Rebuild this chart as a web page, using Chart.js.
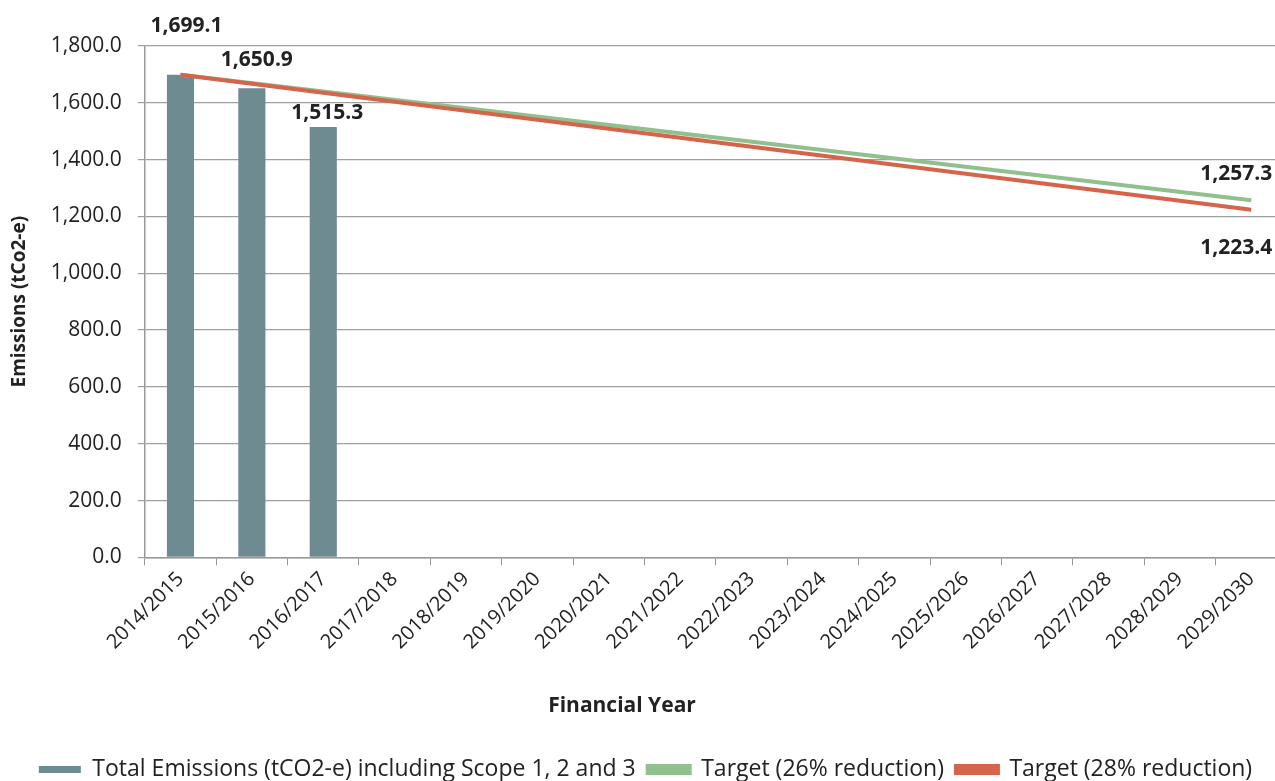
<!DOCTYPE html>
<html>
<head>
<meta charset="utf-8">
<script src="https://cdn.jsdelivr.net/npm/chart.js@4.4.1/dist/chart.umd.min.js"></script>
<style>
  html, body { margin: 0; padding: 0; background: #fff; overflow: hidden; }
  #wrap { position: absolute; left: 0; top: 0; width: 1290px; height: 781px; }
</style>
</head>
<body>
<div id="wrap"><canvas id="emChart"></canvas></div>
<script>
const years = [
  "2014/2015", "2015/2016", "2016/2017", "2017/2018", "2018/2019", "2019/2020",
  "2020/2021", "2021/2022", "2022/2023", "2023/2024", "2024/2025", "2025/2026",
  "2026/2027", "2027/2028", "2028/2029", "2029/2030"
];
const totalEmissions = [1699.1, 1650.9, 1515.3, null, null, null, null, null,
                        null, null, null, null, null, null, null, null];
// targets only known at the two ends; the line is drawn straight between them
const target26 = [1699.1, null, null, null, null, null, null, null,
                  null, null, null, null, null, null, null, 1257.3];
const target28 = [1699.1, null, null, null, null, null, null, null,
                  null, null, null, null, null, null, null, 1223.4];
const yTicks = [0, 200, 400, 600, 800, 1000, 1200, 1400, 1600, 1800];

const FONT = "'Open Sans', sans-serif";
const fmt = v => v.toLocaleString("en-US", { minimumFractionDigits: 1, maximumFractionDigits: 1 });

// value labels, nudged by hand like in the original
const valueLabels = {
  id: "valueLabels",
  afterDatasetsDraw(chart) {
    const ctx = chart.ctx;
    ctx.save();
    ctx.font = "bold 21px " + FONT;
    ctx.fillStyle = "#222";
    ctx.textAlign = "center";
    ctx.textBaseline = "middle";
    const barMeta = chart.getDatasetMeta(0);
    const barNudge = [[6, -49], [5, -28], [4, -14]];
    totalEmissions.forEach((v, i) => {
      if (v == null) return;
      const el = barMeta.data[i];
      ctx.fillText(fmt(v), el.x + barNudge[i][0], el.y + barNudge[i][1]);
    });
    const last = years.length - 1;
    const g = chart.getDatasetMeta(1).data[last];
    ctx.fillText(fmt(target26[last]), g.x - 15, g.y - 26);
    const r = chart.getDatasetMeta(2).data[last];
    ctx.fillText(fmt(target28[last]), r.x - 15, r.y + 38);
    ctx.restore();
  }
};

// x axis title sits left of centre in the original
const xTitle = {
  id: "xTitle",
  afterDraw(chart) {
    const ctx = chart.ctx;
    ctx.save();
    ctx.font = "bold 21px " + FONT;
    ctx.fillStyle = "#222";
    ctx.textAlign = "center";
    ctx.textBaseline = "middle";
    ctx.fillText("Financial Year", 622, 706);
    ctx.restore();
  }
};

new Chart(document.getElementById("emChart").getContext("2d"), {
  type: "bar",
  data: {
    labels: years,
    datasets: [
      {
        type: "bar",
        label: "Total Emissions (tCO2-e) including Scope 1, 2 and 3",
        data: totalEmissions,
        backgroundColor: "#6d8b91",
        borderWidth: 0,
        categoryPercentage: 1,
        barPercentage: 0.38,
        order: 3
      },
      {
        type: "line",
        label: "Target (26% reduction)",
        data: target26,
        borderColor: "#8fc08e",
        backgroundColor: "#8fc08e",
        borderWidth: 4,
        pointRadius: 0,
        spanGaps: true,
        order: 2
      },
      {
        type: "line",
        label: "Target (28% reduction)",
        data: target28,
        borderColor: "#d6644a",
        backgroundColor: "#d6644a",
        borderWidth: 4,
        pointRadius: 0,
        spanGaps: true,
        order: 1
      }
    ]
  },
  options: {
    responsive: true,
    maintainAspectRatio: false,
    animation: false,
    layout: { padding: { top: 46, right: 3, left: 4, bottom: -10 } },
    plugins: {
      tooltip: { enabled: false },
      legend: {
        position: "bottom",
        labels: {
          font: { family: FONT, size: 23 },
          color: "#222",
          boxWidth: 42,
          boxHeight: 7,
          padding: 12,
          sort: (a, b) => a.datasetIndex - b.datasetIndex
        }
      }
    },
    scales: {
      x: {
        offset: true,
        grid: {
          display: true,
          offset: true,
          drawOnChartArea: false,
          drawTicks: true,
          tickLength: 8,
          color: "#999"
        },
        border: { color: "#999", width: 1.5 },
        ticks: {
          font: { family: FONT, size: 20 },
          color: "#222",
          minRotation: 45,
          maxRotation: 45,
          autoSkip: false,
          padding: 2
        },
        title: { display: true, text: " ", font: { family: FONT, size: 19 }, padding: { top: 10, bottom: 57 } }
      },
      y: {
        min: 0,
        max: 1800,
        afterBuildTicks: axis => { axis.ticks = yTicks.map(v => ({ value: v })); },
        grid: { color: "#a0a0a0", lineWidth: 1.2, tickLength: 7 },
        border: { color: "#999", width: 1.5 },
        ticks: {
          font: { family: FONT, size: 21 },
          color: "#222",
          padding: 16,
          callback: v => fmt(v)
        },
        title: {
          display: true,
          text: "Emissions (tCo2-e)",
          font: { family: FONT, size: 19, weight: "bold" },
          color: "#222",
          padding: { bottom: 4 }
        }
      }
    }
  },
  plugins: [valueLabels, xTitle]
});
</script>
</body>
</html>
